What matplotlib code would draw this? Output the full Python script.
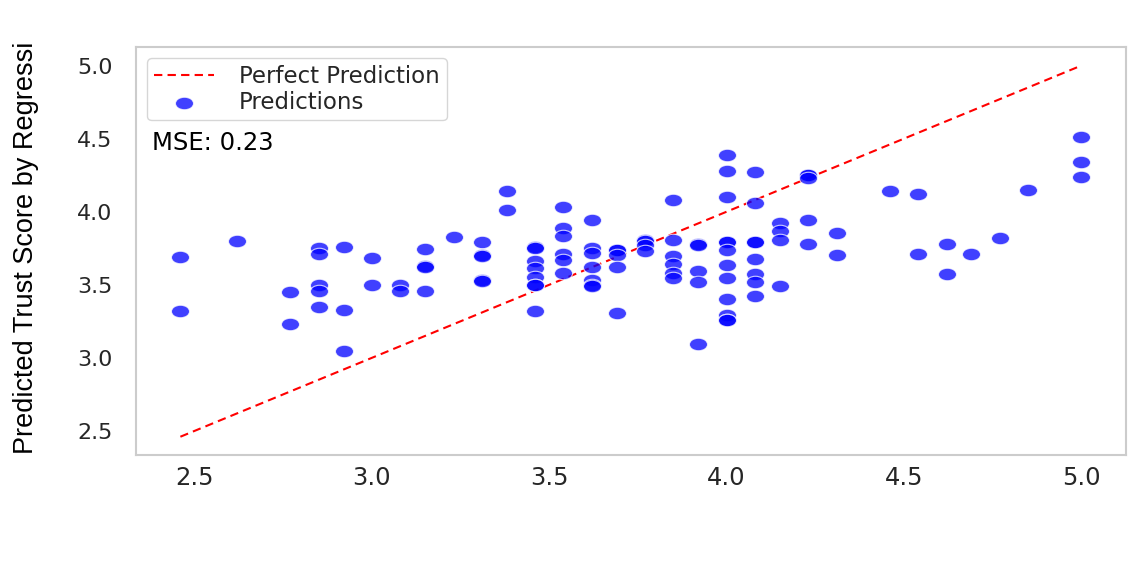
import matplotlib
matplotlib.use("Agg")
import matplotlib.pyplot as plt
from matplotlib.path import Path
from matplotlib.transforms import Affine2D, Bbox, TransformedBbox

actual = [
    2.46, 2.46,
    2.62,
    2.77, 2.77,
    2.85, 2.85, 2.85, 2.85, 2.85,
    2.92, 2.92, 2.92,
    3.00, 3.00,
    3.08, 3.08,
    3.15, 3.15, 3.15, 3.15,
    3.23,
    3.31, 3.31, 3.31, 3.31, 3.31,
    3.38, 3.38,
    3.46, 3.46, 3.46, 3.46, 3.46, 3.46, 3.46, 3.46,
    3.54, 3.54, 3.54, 3.54, 3.54, 3.54,
    3.62, 3.62, 3.62, 3.62, 3.62, 3.62, 3.62,
    3.69, 3.69, 3.69, 3.69, 3.69,
    3.77, 3.77, 3.77, 3.77,
    3.85, 3.85, 3.85, 3.85, 3.85, 3.85,
    3.92, 3.92, 3.92, 3.92, 3.92,
    4.00, 4.00, 4.00, 4.00, 4.00, 4.00, 4.00, 4.00, 4.00, 4.00, 4.00, 4.00,
    4.08, 4.08, 4.08, 4.08, 4.08, 4.08, 4.08, 4.08,
    4.15, 4.15, 4.15, 4.15,
    4.23, 4.23, 4.23, 4.23, 4.23,
    4.31, 4.31,
    4.46,
    4.54, 4.54,
    4.62, 4.62,
    4.69,
    4.77,
    4.85,
    5.00, 5.00, 5.00,
]
predicted = [
    3.69, 3.32,
    3.80,
    3.45, 3.23,
    3.75, 3.71, 3.50, 3.46, 3.35,
    3.755, 3.33, 3.05,
    3.685, 3.50,
    3.50, 3.455,
    3.742, 3.625, 3.62, 3.457,
    3.828,
    3.79, 3.705, 3.70, 3.535, 3.525,
    4.14, 4.01,
    3.755, 3.75, 3.66, 3.615, 3.555, 3.50, 3.495, 3.32,
    4.03, 3.89, 3.835, 3.71, 3.67, 3.578,
    3.94, 3.75, 3.715, 3.62, 3.53, 3.495, 3.49,
    3.738, 3.735, 3.704, 3.62, 3.305,
    3.807, 3.80, 3.775, 3.73,
    4.08, 3.807, 3.70, 3.64, 3.578, 3.545,
    3.78, 3.775, 3.594, 3.516, 3.095,
    4.39, 4.277, 4.098, 3.793, 3.79, 3.738, 3.635, 3.549, 3.402, 3.292, 3.262, 3.258,
    4.272, 4.061, 3.793, 3.79, 3.677, 3.571, 3.521, 3.425,
    3.922, 3.867, 3.807, 3.492,
    4.252, 4.248, 4.228, 3.945, 3.781,
    3.853, 3.704,
    4.144,
    4.123, 3.711,
    3.782, 3.571,
    3.711,
    3.823,
    4.148,
    4.51, 4.343, 4.236,
]
mse = 0.23

xticks = [2.5, 3.0, 3.5, 4.0, 4.5, 5.0]
yticks = [2.5, 3.0, 3.5, 4.0, 4.5, 5.0]

# points in the reference are drawn as flat ellipses
ellipse = Path.unit_circle().transformed(Affine2D().scale(1.45, 1.0))

fig = plt.figure(figsize=(11.28, 5.78), dpi=100)
ax = fig.add_axes([0.1206, 0.2128, 0.8777, 0.7059])

lo, hi = min(actual), max(actual)
ax.plot([lo, hi], [lo, hi], color="red", linestyle=(0, (4, 2.5)), linewidth=1.5,
        label="Perfect Prediction")
ax.scatter(actual, predicted, s=170, marker=ellipse, color="blue", alpha=0.75,
           edgecolors="white", linewidths=0.8, label="Predictions", zorder=3)

ax.set_xlim(2.335, 5.126)
ax.set_ylim(2.335, 5.127)
ax.set_xticks(xticks)
ax.set_yticks(yticks)
ax.set_xticklabels([f"{t:.1f}" for t in xticks], fontsize=17.5, color="#262626",
                   family="DejaVu Sans")
ax.set_yticklabels([f"{t:.1f}" for t in yticks], fontsize=16, color="#262626",
                   family="DejaVu Sans")
ax.tick_params(axis="x", length=0, pad=8)
ax.tick_params(axis="y", length=0, pad=17)

for sp in ax.spines.values():
    sp.set_color("#cccccc")
    sp.set_linewidth(1.5)

ax.text(0.016, 0.765, f"MSE: {mse:.2f}", transform=ax.transAxes, fontsize=17.5,
        family="DejaVu Sans", ha="left", va="center", color="black")

leg = ax.legend(loc="upper left", prop={"family": "DejaVu Sans", "size": 16.5},
                handlelength=2.6, handletextpad=1.1, labelspacing=0.1,
                borderpad=0.3, borderaxespad=0.5, frameon=True, fancybox=True,
                edgecolor="#cccccc")
for t in leg.get_texts():
    t.set_color("#262626")

ylab = ax.set_ylabel("Predicted Trust Score by Regression", fontsize=19.5,
                     family="Liberation Sans", color="black")
ax.yaxis.set_label_coords(-0.098, 0.545)
# the top of the label is cut off in the reference
ylab.set_clip_box(TransformedBbox(Bbox([[0, 0], [1, 1 - 42 / 578]]), fig.transFigure))
ylab.set_clip_on(True)

fig.savefig("out.png", dpi=100, facecolor="white")
